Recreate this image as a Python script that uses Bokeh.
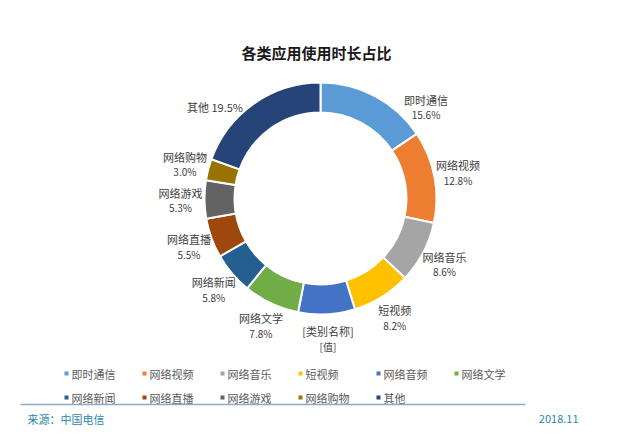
import math
from bokeh.plotting import figure
from bokeh.models import Range1d, ColumnDataSource
from bokeh.core.properties import value
from bokeh.embed import file_html
from bokeh.resources import INLINE

# ---- data ----
categories = ["即时通信", "网络视频", "网络音乐", "短视频", "网络音频", "网络文学",
              "网络新闻", "网络直播", "网络游戏", "网络购物", "其他"]
shares = [15.6, 12.8, 8.6, 8.2, 7.9, 7.8, 5.8, 5.5, 5.3, 3.0, 19.5]
label_names = ["即时通信", "网络视频", "网络音乐", "短视频", "[类别名称]", "网络文学",
               "网络新闻", "网络直播", "网络游戏", "网络购物", "其他"]
label_values = ["15.6%", "12.8%", "8.6%", "8.2%", "[值]", "7.8%",
                "5.8%", "5.5%", "5.3%", "3.0%", "19.5%"]
colors = ["#5B9BD5", "#ED7D31", "#A5A5A5", "#FFC000", "#4472C4", "#70AD47",
          "#255E91", "#9E480E", "#636363", "#997300", "#264478"]
title_text = "各类应用使用时长占比"
source_text = "来源：中国电信"
date_text = "2018.11"

W, H = 629, 435
FONT = "Noto Sans CJK SC"

def Y(py):
    return H - py

p = figure(width=W, height=H, output_backend="svg", toolbar_location=None,
           x_range=Range1d(0, W), y_range=Range1d(0, H), min_border=0)
p.axis.visible = False
p.grid.visible = False
p.outline_line_color = None
p.background_fill_color = "white"
p.border_fill_color = "white"

cx, cy = 320, Y(198)
r_out, r_in = 116, 86
total = sum(shares)
starts, ends, mids = [], [], []
acc = 0.0
for v in shares:
    a0 = math.pi / 2 - 2 * math.pi * acc / total
    acc += v
    a1 = math.pi / 2 - 2 * math.pi * acc / total
    starts.append(a0)
    ends.append(a1)
    mids.append((a0 + a1) / 2)

src = ColumnDataSource(dict(start=starts, end=ends, color=colors))
p.annular_wedge(x=cx, y=cy, inner_radius=r_in, outer_radius=r_out,
                start_angle="start", end_angle="end", direction="clock",
                fill_color="color", line_color="white", line_width=2, source=src)

# data labels (placed on a ring around the donut, kept clear of the title)
lr = 140
max_up = 92  # labels no higher than this above the centre
n_x, n_y, v_x, v_y, n_t, v_t = [], [], [], [], [], []
for name, val, m in zip(label_names, label_values, mids):
    dx = lr * math.cos(m)
    dy = lr * math.sin(m)
    if dy > max_up:
        dy = max_up
        dx = math.copysign(math.sqrt(lr * lr - dy * dy), dx)
    lx, ly = cx + dx, cy + dy
    if name == "其他":
        n_t.append(name + " " + val)
        n_x.append(lx); n_y.append(ly)
        v_t.append(""); v_x.append(lx); v_y.append(ly)
    else:
        n_t.append(name); n_x.append(lx); n_y.append(ly + 7)
        v_t.append(val); v_x.append(lx); v_y.append(ly - 8)
p.text(x=n_x, y=n_y, text=n_t, text_align="center", text_baseline="middle",
       text_font=value(FONT), text_font_size="11px", text_color="#404040")
p.text(x=v_x, y=v_y, text=v_t, text_align="center", text_baseline="middle",
       text_font=value(FONT), text_font_size="10px", text_color="#404040")

# title
p.text(x=[316], y=[Y(52)], text=[title_text], text_align="center", text_baseline="middle",
       text_font=value(FONT), text_font_size="15px", text_font_style="bold",
       text_color="#1a1a1a")

# legend
mx, mxt, my = [], [], []
for i, c in enumerate(categories):
    col, row = i % 6, i // 6
    px = 66 + col * 78
    py = 373 + row * 24
    mx.append(px); mxt.append(px + 5); my.append(Y(py))
p.rect(x=mx, y=my, width=4, height=4, fill_color=colors, line_color=None)
p.text(x=mxt, y=my, text=categories, text_align="left", text_baseline="middle",
       text_font=value(FONT), text_font_size="11px", text_color="#595959")

# separator line and footer
p.segment(x0=[20], y0=[Y(404)], x1=[525], y1=[Y(404)], line_color="#8FAAC8", line_width=1.5)
p.text(x=[27], y=[Y(418)], text=[source_text], text_align="left", text_baseline="middle",
       text_font=value(FONT), text_font_size="11px", text_color="#2E86AB")
p.text(x=[578], y=[Y(418)], text=[date_text], text_align="right", text_baseline="middle",
       text_font=value(FONT), text_font_size="11px", text_color="#2E86AB")

open("out.html", "w").write(file_html(p, INLINE))
